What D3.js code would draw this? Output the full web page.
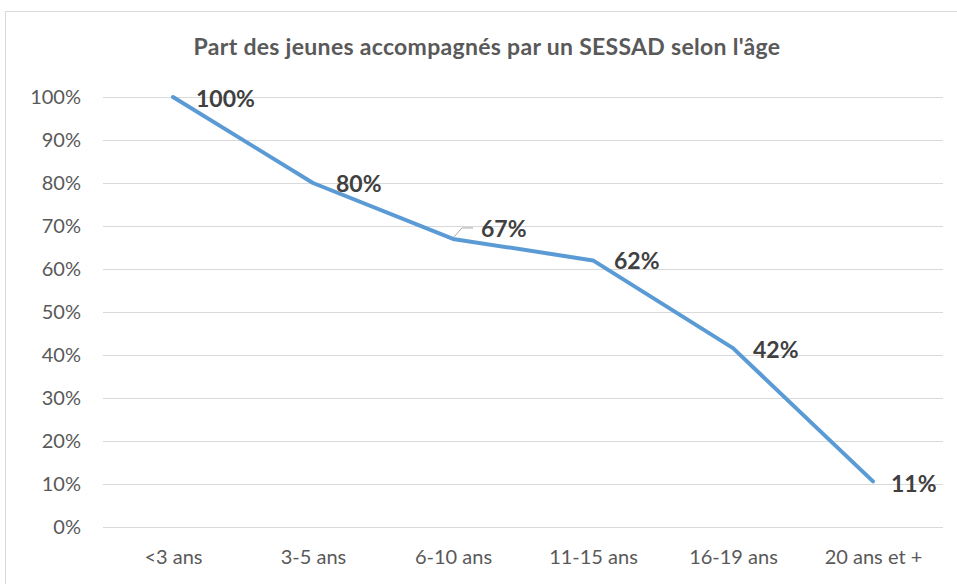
<!DOCTYPE html>
<html>
<head>
<meta charset="utf-8">
<script src="https://cdn.jsdelivr.net/npm/d3@7"></script>
<style>
  body { margin: 0; background: #fff; }
  text { font-family: Lato, "Open Sans", sans-serif; }
</style>
</head>
<body>
<div id="chart"></div>
<script>
const categories = ['<3 ans', '3-5 ans', '6-10 ans', '11-15 ans', '16-19 ans', '20 ans et +'];
const values = [1.00, 0.80, 0.67, 0.62, 0.416, 0.106];
const labels = ['100%', '80%', '67%', '62%', '42%', '11%'];
const yTicks = [0, 0.1, 0.2, 0.3, 0.4, 0.5, 0.6, 0.7, 0.8, 0.9, 1.0];

const width = 957, height = 584;
const margin = {top: 97, right: 14, bottom: 57, left: 103};

const svg = d3.select('#chart').append('svg')
  .attr('width', width)
  .attr('height', height);

// chart frame (runs off the right/bottom edges like the screenshot)
svg.append('rect')
  .attr('x', 5.5).attr('y', 11.5)
  .attr('width', width + 10).attr('height', height + 10)
  .attr('fill', '#fff')
  .attr('stroke', '#d9d9d9');

const x = d3.scalePoint()
  .domain(categories)
  .range([margin.left, width - margin.right])
  .padding(0.5);

const y = d3.scaleLinear()
  .domain([0, 1])
  .range([height - margin.bottom, margin.top]);

// gridlines
svg.append('g')
  .selectAll('line')
  .data(yTicks)
  .join('line')
  .attr('x1', margin.left).attr('x2', width - margin.right)
  .attr('y1', d => Math.round(y(d)) + 0.5).attr('y2', d => Math.round(y(d)) + 0.5)
  .attr('stroke', '#d9d9d9');

const yAxis = svg.append('g')
  .attr('transform', `translate(${margin.left},0)`)
  .call(d3.axisLeft(y).tickValues(yTicks).tickFormat(d3.format('.0%')).tickSize(0).tickPadding(22));
yAxis.select('.domain').remove();
yAxis.selectAll('text').attr('font-size', 20).attr('fill', '#595959').style('font-family', 'Lato, sans-serif');

const xAxis = svg.append('g')
  .attr('transform', `translate(0,${height - margin.bottom})`)
  .call(d3.axisBottom(x).tickSize(0).tickPadding(23));
xAxis.select('.domain').remove();
xAxis.selectAll('text').attr('font-size', 20).attr('fill', '#595959').style('font-family', 'Lato, sans-serif');

// title
svg.append('text')
  .attr('x', 487).attr('y', 55)
  .attr('text-anchor', 'middle')
  .attr('font-size', 23)
  .attr('font-weight', 'bold')
  .attr('letter-spacing', 0.3)
  .attr('fill', '#595959')
  .text("Part des jeunes accompagnés par un SESSAD selon l'âge");

const data = categories.map((c, i) => ({cat: c, v: values[i], label: labels[i]}));

svg.append('path')
  .datum(data)
  .attr('fill', 'none')
  .attr('stroke', '#5b9bd5')
  .attr('stroke-width', 4)
  .attr('stroke-linejoin', 'round')
  .attr('stroke-linecap', 'round')
  .attr('d', d3.line().x(d => x(d.cat)).y(d => y(d.v)));

// data labels right of each point; 67% is lifted with a leader line
const offsets = [[23, 10], [23, 9], [28, -2], [21, 9], [20, 10], [18, 11]];

const lab = data[2];
svg.append('path')
  .attr('d', `M${x(lab.cat) + 1},${y(lab.v) - 2} L${x(lab.cat) + 9},${y(lab.v) - 11} L${x(lab.cat) + 20},${y(lab.v) - 11}`)
  .attr('fill', 'none')
  .attr('stroke', '#a6a6a6')
  .attr('stroke-width', 1);

svg.append('g')
  .selectAll('text')
  .data(data)
  .join('text')
  .attr('x', (d, i) => x(d.cat) + offsets[i][0])
  .attr('y', (d, i) => y(d.v) + offsets[i][1])
  .attr('font-size', 23)
  .attr('font-weight', 'bold')
  .attr('fill', '#404040')
  .text(d => d.label);
</script>
</body>
</html>
